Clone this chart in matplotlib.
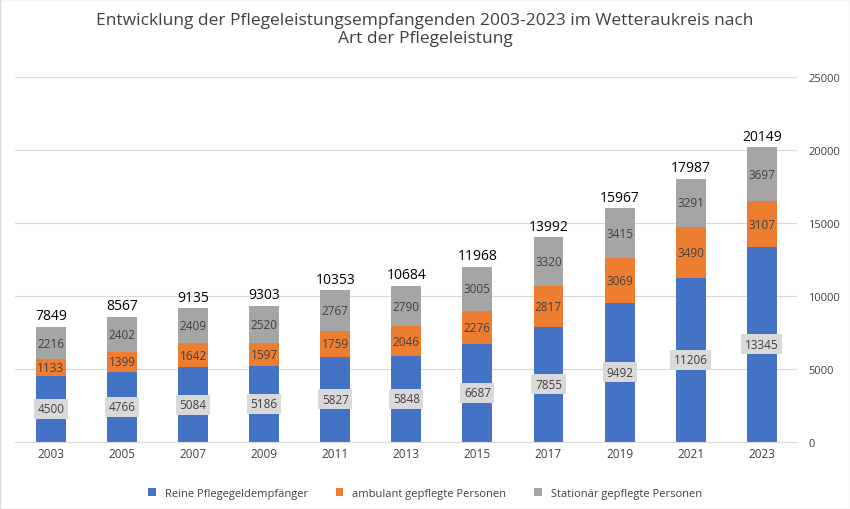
import matplotlib
matplotlib.use("Agg")
import matplotlib.pyplot as plt
import numpy as np

years = ["2003","2005","2007","2009","2011","2013","2015","2017","2019","2021","2023"]
pflegegeld = [4500,4766,5084,5186,5827,5848,6687,7855,9492,11206,13345]
ambulant = [1133,1399,1642,1597,1759,2046,2276,2817,3069,3490,3107]
stationaer = [2216,2402,2409,2520,2767,2790,3005,3320,3415,3291,3697]
totals = [7849,8567,9135,9303,10353,10684,11968,13992,15967,17987,20149]

plt.rcParams['font.family'] = ['Open Sans', 'DejaVu Sans']
fig = plt.figure(figsize=(8.5,5.1), dpi=100)
ax = fig.add_axes([0.018, 0.132, 0.92, 0.716])
x = np.arange(len(years))
w = 0.42
c1, c2, c3 = "#4472C4", "#ED7D31", "#A5A5A5"
b = np.array(pflegegeld); a = np.array(ambulant); s = np.array(stationaer)
ax.bar(x, b, w, color=c1, label="Reine Pflegegeldempfänger", zorder=2)
ax.bar(x, a, w, bottom=b, color=c2, label="ambulant gepflegte Personen", zorder=2)
ax.bar(x, s, w, bottom=b+a, color=c3, label="Stationär gepflegte Personen", zorder=2)
for i in x:
    ax.text(i, b[i]/2, str(b[i]), ha="center", va="center", fontsize=8.5, color="#404040",
            bbox=dict(boxstyle="square,pad=0.3", fc="#D9D9D9", ec="none"), zorder=3)
    ax.text(i, b[i]+a[i]/2, str(a[i]), ha="center", va="center", fontsize=8.5, color="#404040", zorder=3)
    ax.text(i, b[i]+a[i]+s[i]/2, str(s[i]), ha="center", va="center", fontsize=8.5, color="#404040", zorder=3)
    ax.text(i, totals[i]+250, str(totals[i]), ha="center", va="bottom", fontsize=10, color="black", zorder=3)
ax.set_ylim(0, 25000)
ax.set_xlim(-0.5, len(years)-0.5)
ax.set_yticks(range(0, 25001, 5000))
ax.yaxis.tick_right()
ax.set_xticks(x, years)
ax.tick_params(length=0, labelsize=8.5, colors="#404040")
ax.tick_params(axis='y', pad=8, labelsize=8)
ax.grid(axis="y", color="#D9D9D9", lw=0.8, zorder=0)
for sp in ax.spines.values():
    sp.set_visible(False)
ax.spines['bottom'].set_visible(True); ax.spines['bottom'].set_color("#D9D9D9")
fig.suptitle("Entwicklung der Pflegeleistungsempfangenden 2003-2023 im Wetteraukreis nach\nArt der Pflegeleistung",
             y=0.975, fontsize=12.5, color="#404040")
fig.legend(loc="lower center", ncol=3, frameon=False, fontsize=8, bbox_to_anchor=(0.5, 0.0),
           handlelength=0.7, handleheight=0.7, columnspacing=2.5, labelcolor="#404040")
fig.patches.append(plt.Rectangle((0,0),1,1, transform=fig.transFigure, fill=False, ec="#D9D9D9", lw=1))
fig.savefig("out.png", dpi=100)
